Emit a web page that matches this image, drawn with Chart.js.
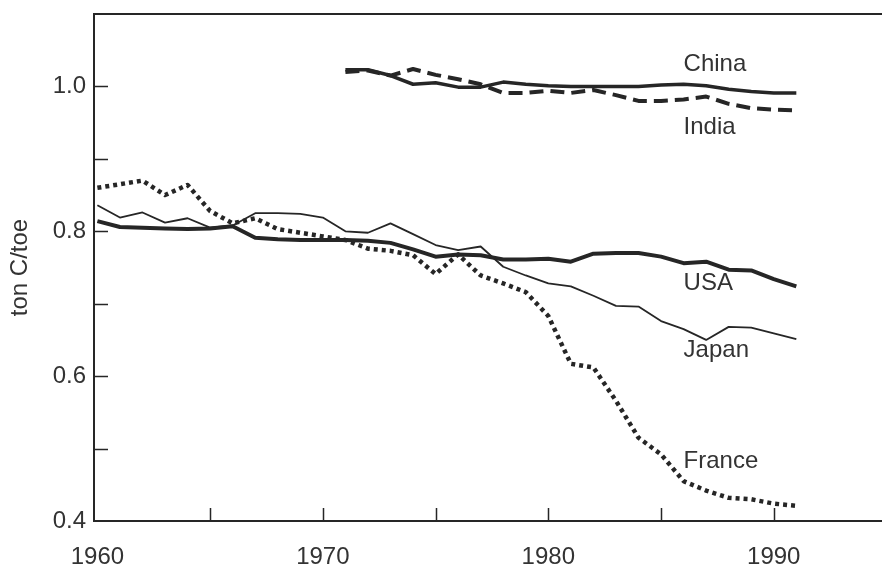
<!DOCTYPE html>
<html>
<head>
<meta charset="utf-8">
<script src="https://cdn.jsdelivr.net/npm/chart.js@4.4.1/dist/chart.umd.min.js"></script>
<style>
  html, body { margin: 0; padding: 0; background: #fff; }
</style>
</head>
<body>
<canvas id="myChart" width="882" height="571"></canvas>
<script>
const Y_TITLE = 'ton C/toe';

const years = [1960, 1961, 1962, 1963, 1964, 1965, 1966, 1967, 1968, 1969,
               1970, 1971, 1972, 1973, 1974, 1975, 1976, 1977, 1978, 1979,
               1980, 1981, 1982, 1983, 1984, 1985, 1986, 1987, 1988, 1989,
               1990, 1991];
const usa = [0.814, 0.806, 0.805, 0.804, 0.803, 0.804, 0.807, 0.791, 0.789, 0.788,
             0.788, 0.788, 0.787, 0.784, 0.775, 0.765, 0.768, 0.767, 0.761, 0.761,
             0.762, 0.758, 0.769, 0.770, 0.770, 0.765, 0.756, 0.758, 0.747, 0.746,
             0.734, 0.724];
const japan = [0.836, 0.819, 0.826, 0.812, 0.818, 0.805, 0.808, 0.825, 0.825, 0.824,
               0.819, 0.800, 0.798, 0.811, 0.796, 0.781, 0.774, 0.779, 0.751, 0.739,
               0.728, 0.724, 0.711, 0.697, 0.696, 0.676, 0.665, 0.650, 0.668, 0.667,
               0.659, 0.651];
const france = [0.860, 0.865, 0.870, 0.850, 0.864, 0.828, 0.811, 0.818, 0.803, 0.798,
                0.793, 0.788, 0.776, 0.773, 0.767, 0.741, 0.768, 0.739, 0.728, 0.716,
                0.683, 0.617, 0.612, 0.566, 0.515, 0.492, 0.455, 0.442, 0.432, 0.430,
                0.424, 0.421];

const asiaYears = [1971, 1972, 1973, 1974, 1975, 1976, 1977, 1978, 1979, 1980,
                   1981, 1982, 1983, 1984, 1985, 1986, 1987, 1988, 1989, 1990, 1991];
const china = [1.023, 1.023, 1.015, 1.003, 1.005, 0.999, 0.999, 1.006, 1.003, 1.001,
               1.000, 1.000, 1.000, 1.000, 1.002, 1.003, 1.001, 0.996, 0.993, 0.991, 0.991];
const india = [1.020, 1.022, 1.015, 1.024, 1.016, 1.010, 1.003, 0.991, 0.991, 0.994,
               0.991, 0.995, 0.988, 0.980, 0.980, 0.982, 0.986, 0.976, 0.970, 0.968, 0.967];

const xTicks = [1960, 1970, 1980, 1990];
const xMarks = [1965, 1970, 1975, 1980, 1985, 1990];
const yTicks = [0.4, 0.6, 0.8, 1.0];
const yMarks = [0.5, 0.6, 0.7, 0.8, 0.9, 1.0];

const seriesNames = ['China', 'India', 'USA', 'Japan', 'France'];
// where each series name sits, in data units
const tagYear = [1986, 1986, 1986, 1986, 1986];
const tagValue = [1.030, 0.944, 0.728, 0.635, 0.482];

const INK = '#262626';
const TEXT = '#333333';
const FONT = '"Liberation Sans", Arial, sans-serif';

function pts(xs, ys) {
  return xs.map((x, i) => ({x: x, y: ys[i]}));
}

function noPad(s) {
  s.paddingTop = 0;
  s.paddingBottom = 0;
  s.paddingLeft = 0;
  s.paddingRight = 0;
}

const decor = {
  id: 'decor',
  afterDraw(chart) {
    const ctx = chart.ctx;
    const a = chart.chartArea;
    const x = chart.scales.x;
    const y = chart.scales.y;
    ctx.save();
    ctx.strokeStyle = INK;
    ctx.lineWidth = 2;
    ctx.beginPath();
    ctx.moveTo(a.left - 1, a.top);
    ctx.lineTo(a.right, a.top);
    ctx.stroke();

    ctx.lineWidth = 1.5;
    ctx.beginPath();
    yMarks.forEach((v) => {
      const p = Math.round(y.getPixelForValue(v)) + 0.5;
      ctx.moveTo(a.left, p);
      ctx.lineTo(a.left + 14, p);
    });
    xMarks.forEach((v) => {
      const p = Math.round(x.getPixelForValue(v)) + 0.5;
      ctx.moveTo(p, a.bottom);
      ctx.lineTo(p, a.bottom - 13);
    });
    ctx.stroke();

    ctx.fillStyle = TEXT;
    ctx.font = '24px ' + FONT;
    ctx.textAlign = 'left';
    ctx.textBaseline = 'middle';
    seriesNames.forEach((name, i) => {
      ctx.fillText(name, x.getPixelForValue(tagYear[i]), y.getPixelForValue(tagValue[i]));
    });
    ctx.restore();
  }
};

const data = {
  datasets: [
    {
      label: 'China',
      data: pts(asiaYears, china),
      borderColor: INK,
      borderWidth: 3.5,
    },
    {
      label: 'India',
      data: pts(asiaYears, india),
      borderColor: INK,
      borderWidth: 4,
      borderDash: [14, 7],
    },
    {
      label: 'USA',
      data: pts(years, usa),
      borderColor: INK,
      borderWidth: 4,
    },
    {
      label: 'Japan',
      data: pts(years, japan),
      borderColor: INK,
      borderWidth: 1.8,
    },
    {
      label: 'France',
      data: pts(years, france),
      borderColor: INK,
      borderWidth: 4.5,
      borderDash: [4, 4],
    },
  ]
};

const config = {
  type: 'line',
  data: data,
  options: {
    responsive: false,
    animation: false,
    elements: {
      point: {radius: 0},
      line: {tension: 0, borderJoinStyle: 'round', fill: false}
    },
    layout: {padding: {top: 14, left: 0, right: 0, bottom: 0}},
    plugins: {
      legend: {display: false},
      tooltip: {enabled: false},
      title: {display: false}
    },
    scales: {
      x: {
        type: 'linear',
        min: 1959.85,
        max: 1994.8,
        afterBuildTicks: (s) => { s.ticks = xTicks.map((v) => ({value: v})); },
        afterFit: (s) => { s.height = 50; noPad(s); },
        grid: {display: false, drawTicks: false},
        border: {display: true, color: INK, width: 2},
        ticks: {
          color: TEXT,
          font: {size: 24, family: FONT},
          padding: 22,
          maxRotation: 0,
          callback: (v) => String(v)
        }
      },
      y: {
        min: 0.4,
        max: 1.1,
        afterBuildTicks: (s) => { s.ticks = yTicks.map((v) => ({value: v})); },
        afterFit: (s) => { s.width = 94; noPad(s); },
        grid: {display: false, drawTicks: false},
        border: {display: true, color: INK, width: 2},
        ticks: {
          color: TEXT,
          font: {size: 24, family: FONT},
          padding: 8,
          callback: (v) => Number(v).toFixed(1)
        },
        title: {
          display: true,
          text: Y_TITLE,
          color: TEXT,
          font: {size: 24, family: FONT},
          padding: {top: 6, bottom: 0}
        }
      }
    }
  },
  plugins: [decor]
};

const myChart = new Chart(document.getElementById('myChart'), config);
</script>
</body>
</html>
